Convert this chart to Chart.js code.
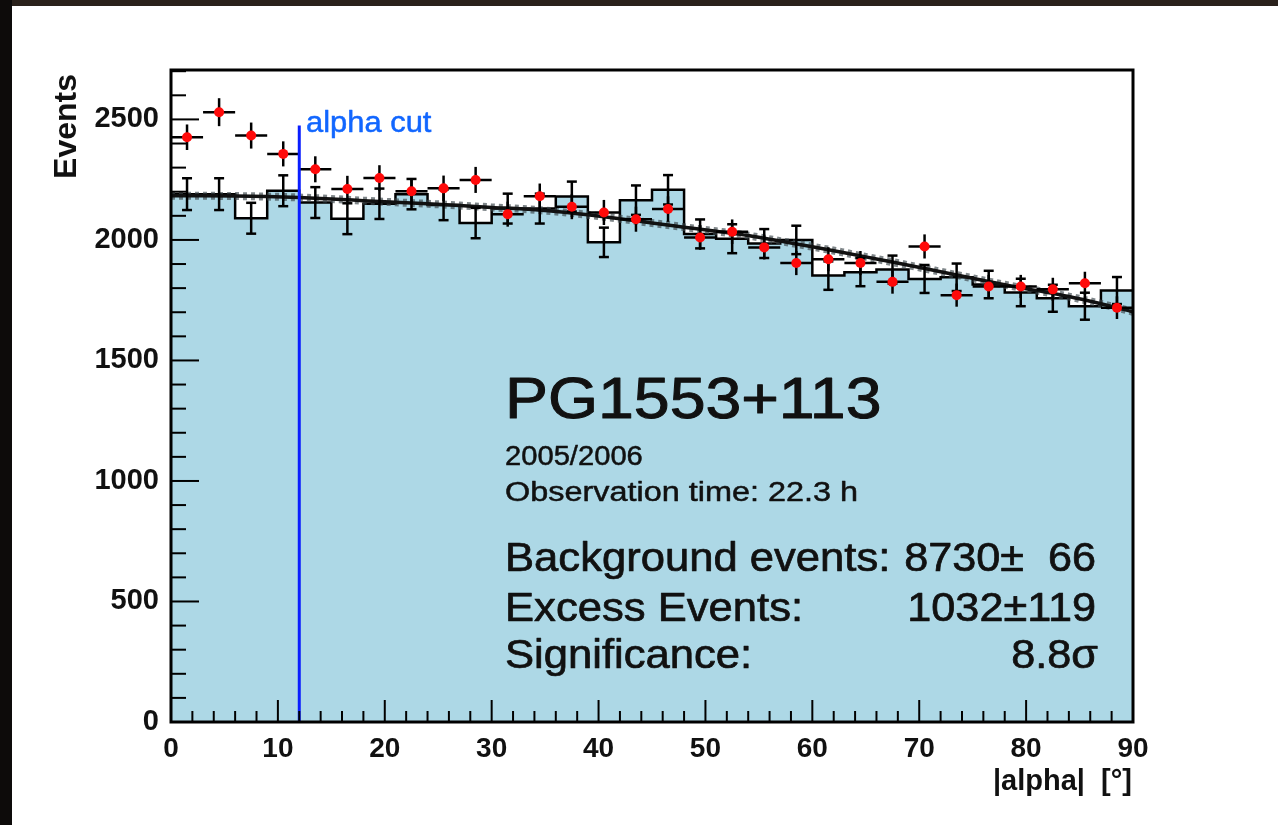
<!DOCTYPE html>
<html>
<head>
<meta charset="utf-8">
<title>PG1553+113 alpha plot</title>
<script src="https://cdn.jsdelivr.net/npm/chart.js@4.4.0/dist/chart.umd.min.js"></script>
<style>
  html, body { margin: 0; padding: 0; background: #fff; }
  #wrap { width: 1278px; height: 825px; }
</style>
</head>
<body>
<div id="wrap"><canvas id="alphaPlot"></canvas></div>
<script>
// bins of |alpha| (3 deg wide)
const binLow = [0, 3, 6, 9, 12, 15, 18, 21, 24, 27, 30, 33, 36, 39, 42, 45, 48, 51, 54, 57, 60, 63, 66, 69, 72, 75, 78, 81, 84, 87];
const binWidth = 3;

// ON data (red crosses)
const onCounts = [2426, 2530, 2433, 2357, 2293, 2211, 2257, 2202, 2214, 2249, 2107, 2181, 2138, 2114, 2086, 2128, 2010, 2034, 1969, 1904, 1920, 1904, 1826, 1973, 1771, 1807, 1807, 1795, 1820, 1719];
const onErr = [53, 58, 54, 52, 54, 55, 53, 54, 53, 54, 52, 53, 52, 52, 52, 53, 51, 51, 50, 50, 50, 50, 49, 50, 48, 48, 48, 48, 48, 47];

// OFF data (blue histogram)
const offCounts = [2190, 2190, 2090, 2204, 2155, 2088, 2150, 2190, 2145, 2070, 2130, 2130, 2180, 1990, 2165, 2208, 2025, 2005, 1985, 2000, 1852, 1866, 1877, 1838, 1845, 1815, 1782, 1758, 1725, 1790];
const offErr = [66, 66, 64, 64, 64, 64, 63, 63, 63, 63, 62, 62, 62, 61, 61, 61, 60, 60, 60, 59, 59, 58, 58, 58, 57, 57, 57, 56, 56, 56];

// polynomial fit to OFF data
const fitX = [0, 3, 6, 9, 12, 15, 18, 21, 24, 27, 30, 33, 36, 39, 42, 45, 48, 51, 54, 57, 60, 63, 66, 69, 72, 75, 78, 81, 84, 87, 90];
const fitY = [2183, 2183, 2182, 2180, 2176, 2170, 2163, 2156, 2150, 2143, 2135, 2128, 2118, 2104, 2088, 2070, 2053, 2036, 2018, 1995, 1972, 1947, 1921, 1895, 1868, 1841, 1814, 1790, 1765, 1735, 1702];

const alphaCut = 12;
const alphaCutTop = 2475;

const yTicks = [0, 500, 1000, 1500, 2000, 2500];
const xTicks = [0, 10, 20, 30, 40, 50, 60, 70, 80, 90];

const FONT = '"Liberation Sans", Arial, Helvetica, sans-serif';

let offStep = binLow.map((x, i) => ({ x: x, y: offCounts[i] }));
offStep.push({ x: binLow[binLow.length - 1] + binWidth, y: offCounts[offCounts.length - 1] });
let onPts = binLow.map((x, i) => ({ x: x + binWidth / 2, y: onCounts[i] }));
let fitPts = fitX.map((x, i) => ({ x: x, y: fitY[i] }));

function stretchText(ctx, str, x, y, font, align, sx, weight) {
    ctx.save();
    ctx.font = font;
    ctx.textAlign = align;
    ctx.textBaseline = 'alphabetic';
    ctx.translate(x, y);
    ctx.scale(sx, 1);
    ctx.fillText(str, 0, 0);
    if (weight) {
        // thicken the glyphs a bit, the original looks heavier
        ctx.lineWidth = weight;
        ctx.strokeStyle = ctx.fillStyle;
        ctx.lineJoin = 'round';
        ctx.strokeText(str, 0, 0);
    }
    ctx.restore();
}

function line(ctx, x1, y1, x2, y2) {
    ctx.beginPath();
    ctx.moveTo(x1, y1);
    ctx.lineTo(x2, y2);
    ctx.stroke();
}

const rootStyle = {
    id: 'rootStyle',
    beforeDraw(chart) {
        const ctx = chart.ctx;
        ctx.save();
        ctx.fillStyle = '#ffffff';
        ctx.fillRect(0, 0, chart.width, chart.height);
        ctx.fillStyle = '#2a211b';
        ctx.fillRect(0, 0, chart.width, 6);
        ctx.fillStyle = '#0d0b0a';
        ctx.fillRect(0, 0, 12, chart.height);
        ctx.restore();
    },
    beforeDatasetDraw(chart, args) {
        if (chart.data.datasets[args.index].label !== 'ON') return;
        const ctx = chart.ctx;
        const xs = chart.scales.x, ys = chart.scales.y;
        ctx.save();
        ctx.strokeStyle = '#000';
        ctx.lineWidth = 2.5;
        // OFF error bars with caps
        for (let i = 0; i < binLow.length; i++) {
            const px = xs.getPixelForValue(binLow[i] + binWidth / 2);
            const lo = ys.getPixelForValue(offCounts[i] - offErr[i]);
            const hi = ys.getPixelForValue(offCounts[i] + offErr[i]);
            line(ctx, px, lo, px, hi);
            line(ctx, px - 5, lo, px + 5, lo);
            line(ctx, px - 5, hi, px + 5, hi);
        }
        // ON crosses
        for (let i = 0; i < binLow.length; i++) {
            const px = xs.getPixelForValue(binLow[i] + binWidth / 2);
            const py = ys.getPixelForValue(onCounts[i]);
            line(ctx, xs.getPixelForValue(binLow[i]), py, xs.getPixelForValue(binLow[i] + binWidth), py);
            line(ctx, px, ys.getPixelForValue(onCounts[i] - onErr[i]), px, ys.getPixelForValue(onCounts[i] + onErr[i]));
        }
        ctx.restore();
    },
    afterDatasetsDraw(chart) {
        const ctx = chart.ctx;
        const a = chart.chartArea;
        const xs = chart.scales.x, ys = chart.scales.y;
        ctx.save();
        ctx.strokeStyle = '#000';
        ctx.lineWidth = 2;
        for (let v = 0; v <= 2700; v += 100) {
            const py = ys.getPixelForValue(v);
            line(ctx, a.left, py, a.left + (v % 500 === 0 ? 28 : 15), py);
        }
        for (let v = 0; v <= 90; v += 2) {
            const px = xs.getPixelForValue(v);
            line(ctx, px, a.bottom, px, a.bottom - (v % 10 === 0 ? 22 : 11));
        }
        ctx.lineWidth = 3;
        ctx.strokeRect(a.left, a.top, a.right - a.left, a.bottom - a.top);

        // axis titles
        ctx.fillStyle = '#111';
        ctx.save();
        ctx.translate(67, 74);
        ctx.rotate(-Math.PI / 2);
        ctx.font = 'bold 32px ' + FONT;
        ctx.textAlign = 'right';
        ctx.textBaseline = 'middle';
        ctx.fillText('Events', 0, 0);
        ctx.restore();
        stretchText(ctx, '|alpha|  [\u00b0]', 1132, 790, 'bold 29px ' + FONT, 'right', 1);

        // alpha cut label
        ctx.fillStyle = '#1166ff';
        stretchText(ctx, 'alpha cut', 306, 132, '30px ' + FONT, 'left', 1.03, 0.5);

        // source info
        ctx.fillStyle = '#111';
        stretchText(ctx, 'PG1553+113', 505, 418, '58px ' + FONT, 'left', 1.11, 1.0);
        stretchText(ctx, '2005/2006', 505, 465, '27px ' + FONT, 'left', 1.08, 0.5);
        stretchText(ctx, 'Observation time: 22.3 h', 505, 501, '27px ' + FONT, 'left', 1.2, 0.5);
        stretchText(ctx, 'Background events:', 505, 571, '40px ' + FONT, 'left', 1.09, 0.7);
        stretchText(ctx, '8730\u00b1  66', 1096, 571, '40px ' + FONT, 'right', 1.08, 0.7);
        stretchText(ctx, 'Excess Events:', 505, 621, '40px ' + FONT, 'left', 1.09, 0.7);
        stretchText(ctx, '1032\u00b1119', 1096, 621, '40px ' + FONT, 'right', 1.08, 0.7);
        stretchText(ctx, 'Significance:', 505, 668, '40px ' + FONT, 'left', 1.09, 0.7);
        stretchText(ctx, '8.8\u03c3', 1098, 668, '40px ' + FONT, 'right', 1.08, 0.7);
        ctx.restore();
    }
};

new Chart('alphaPlot', {
    type: 'line',
    data: {
        datasets: [
            {
                label: 'alpha cut',
                data: [{ x: alphaCut, y: 0 }, { x: alphaCut, y: alphaCutTop }],
                borderColor: '#0a1eff',
                borderWidth: 3,
                pointRadius: 0,
                fill: false,
                order: 0
            },
            {
                label: 'ON',
                type: 'scatter',
                data: onPts,
                backgroundColor: '#ff0a0a',
                borderWidth: 0,
                pointRadius: 5,
                order: 1
            },
            {
                label: 'fit',
                data: fitPts,
                borderColor: '#111',
                borderWidth: 3.5,
                pointRadius: 0,
                cubicInterpolationMode: 'monotone',
                fill: false,
                order: 3
            },
            {
                label: 'fit band',
                data: fitPts,
                borderColor: 'rgba(60,70,75,0.65)',
                borderWidth: 8,
                borderDash: [4, 4],
                pointRadius: 0,
                cubicInterpolationMode: 'monotone',
                fill: false,
                order: 4
            },
            {
                label: 'OFF',
                data: offStep,
                stepped: true,
                borderColor: '#000',
                borderWidth: 2.5,
                backgroundColor: '#add8e6',
                fill: 'origin',
                pointRadius: 0,
                order: 5
            }
        ]
    },
    options: {
        responsive: true,
        maintainAspectRatio: false,
        animation: false,
        devicePixelRatio: 1,
        layout: { padding: { left: 0, top: 70, right: 145, bottom: 0 } },
        plugins: {
            legend: { display: false },
            tooltip: { enabled: false }
        },
        scales: {
            x: {
                type: 'linear',
                min: 0,
                max: 90,
                grid: { display: false },
                border: { display: false },
                afterBuildTicks: s => { s.ticks = xTicks.map(v => ({ value: v })); },
                ticks: {
                    maxRotation: 0,
                    autoSkip: false,
                    padding: 2,
                    color: '#111',
                    font: { family: FONT, size: 28, weight: 'bold' },
                    callback: v => String(v)
                },
                afterFit: s => { s.height = 103; }
            },
            y: {
                type: 'linear',
                min: 0,
                max: 2705,
                grid: { display: false },
                border: { display: false },
                afterBuildTicks: s => { s.ticks = yTicks.map(v => ({ value: v })); },
                ticks: {
                    autoSkip: false,
                    padding: 4,
                    color: '#111',
                    font: { family: FONT, size: 29, weight: 'bold' },
                    callback: v => String(v)
                },
                afterFit: s => { s.width = 171; }
            }
        }
    },
    plugins: [rootStyle]
});
console.log('alpha plot drawn');
</script>
</body>
</html>
